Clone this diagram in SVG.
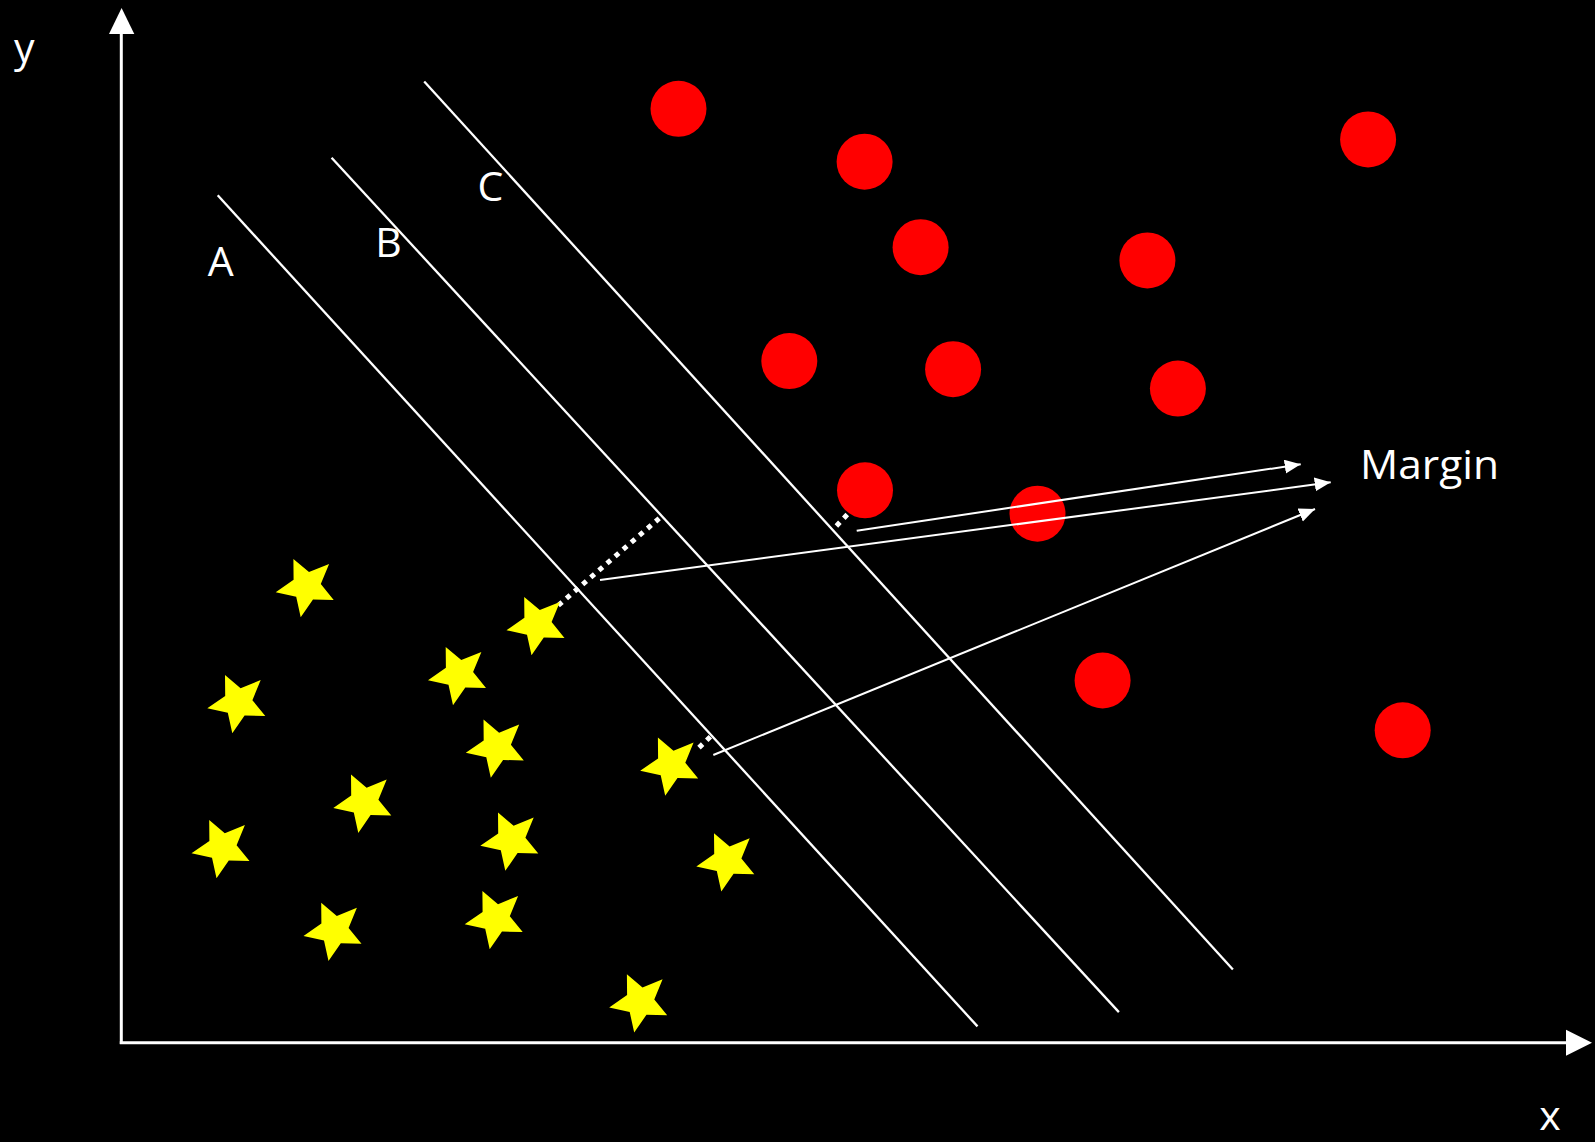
<svg xmlns="http://www.w3.org/2000/svg" width="1595" height="1142" viewBox="0 0 1595 1142">
<defs>
<style>
.lbl{font-family:"Open Sans","Liberation Sans",sans-serif;font-size:41px;fill:#fff}
.sep{stroke:#fff;stroke-width:2.3;fill:none}
.arr{stroke:#fff;stroke-width:2;fill:none;marker-end:url(#ah)}
.dot{stroke:#fff;stroke-width:5;fill:none;stroke-dasharray:5 5.7}
.axis{stroke:#fff;stroke-width:3;fill:none}
.red{fill:#ff0000}
.star{fill:#ffff00}
</style>
<marker id="ah" markerUnits="userSpaceOnUse" markerWidth="17" markerHeight="15" refX="16" refY="7" orient="auto">
<path d="M0,0 L16,7 L0,14 z" fill="#fff"/>
</marker>
<polygon id="st" points="-13.1,-27.5 2.5,-14.3 22.6,-22.5 14.3,-2.3 27.2,13.5 6.5,13 -5.8,30.8 -10.3,10.3 -30.8,5.8 -12.9,-6.6"/>
</defs>
<rect width="1595" height="1142" fill="#000"/>

<g id="red-points">
<g id="r1"><circle class="red" cx="678.5" cy="108.8" r="28"/></g>
<g id="r2"><circle class="red" cx="864.6" cy="161.7" r="28"/></g>
<g id="r3"><circle class="red" cx="920.6" cy="247.2" r="28"/></g>
<g id="r4"><circle class="red" cx="1147.4" cy="260.4" r="28"/></g>
<g id="r5"><circle class="red" cx="1368.1" cy="139.4" r="28"/></g>
<g id="r6"><circle class="red" cx="789.3" cy="361.1" r="28"/></g>
<g id="r7"><circle class="red" cx="953.1" cy="369.2" r="28"/></g>
<g id="r8"><circle class="red" cx="1177.9" cy="388.6" r="28"/></g>
<g id="r9"><circle class="red" cx="865" cy="490.3" r="28"/></g>
<g id="r10"><circle class="red" cx="1037.5" cy="513.7" r="28"/></g>
<g id="r11"><circle class="red" cx="1102.6" cy="680.5" r="28"/></g>
<g id="r12"><circle class="red" cx="1402.7" cy="730.3" r="28"/></g>
</g>

<g id="connectors">
<line id="axis-y" class="axis" x1="121.3" y1="1044" x2="121.3" y2="33"/>
<polygon points="121.6,8 109,34 134.3,34" fill="#fff"/>
<line id="axis-x" class="axis" x1="119.8" y1="1042.7" x2="1567" y2="1042.7"/>
<polygon points="1592,1042.7 1566,1029.8 1566,1055.7" fill="#fff"/>
<line id="line-A" class="sep" x1="217.7" y1="195.3" x2="977.5" y2="1026.4"/>
<line id="line-B" class="sep" x1="331.6" y1="157.7" x2="1118.9" y2="1012.1"/>
<line id="line-C" class="sep" x1="424.2" y1="81.4" x2="1232.9" y2="969.4"/>
<line class="arr" x1="856.7" y1="530.7" x2="1300.7" y2="464.3"/>
<line class="arr" x1="600" y1="580" x2="1330.7" y2="482.3"/>
<line class="arr" x1="713.3" y1="755" x2="1315" y2="509"/>
<line class="dot" x1="558.3" y1="605.3" x2="659.2" y2="518.4"/>
<line class="dot" x1="699" y1="747.6" x2="710.5" y2="736.6"/>
<line class="dot" x1="836.4" y1="525.9" x2="847.7" y2="514.1"/>
</g>

<g id="yellow-points">
<g id="s1"><use href="#st" class="star" x="306.5" y="586.4"/></g>
<g id="s2"><use href="#st" class="star" x="238.1" y="702.5"/></g>
<g id="s3"><use href="#st" class="star" x="222.3" y="847.5"/></g>
<g id="s4"><use href="#st" class="star" x="364.1" y="802.1"/></g>
<g id="s5"><use href="#st" class="star" x="334.3" y="930.2"/></g>
<g id="s6"><use href="#st" class="star" x="458.8" y="674.4"/></g>
<g id="s7"><use href="#st" class="star" x="537.3" y="624.4"/></g>
<g id="s8"><use href="#st" class="star" x="496.6" y="747"/></g>
<g id="s9"><use href="#st" class="star" x="511.1" y="840"/></g>
<g id="s10"><use href="#st" class="star" x="495.5" y="918.5"/></g>
<g id="s11"><use href="#st" class="star" x="671" y="765"/></g>
<g id="s12"><use href="#st" class="star" x="727.1" y="860.7"/></g>
<g id="s13"><use href="#st" class="star" x="640" y="1001.7"/></g>
</g>

<g id="labels">
<text class="lbl" x="220.8" y="276" text-anchor="middle">A</text>
<text class="lbl" x="388.5" y="257" text-anchor="middle">B</text>
<text class="lbl" x="490.5" y="201" text-anchor="middle">C</text>
<text class="lbl" x="1360" y="479" textLength="139" lengthAdjust="spacingAndGlyphs">Margin</text>
<text class="lbl" x="24.2" y="61.7" text-anchor="middle">y</text>
<text class="lbl" x="1550" y="1130" text-anchor="middle">x</text>
</g>
</svg>
